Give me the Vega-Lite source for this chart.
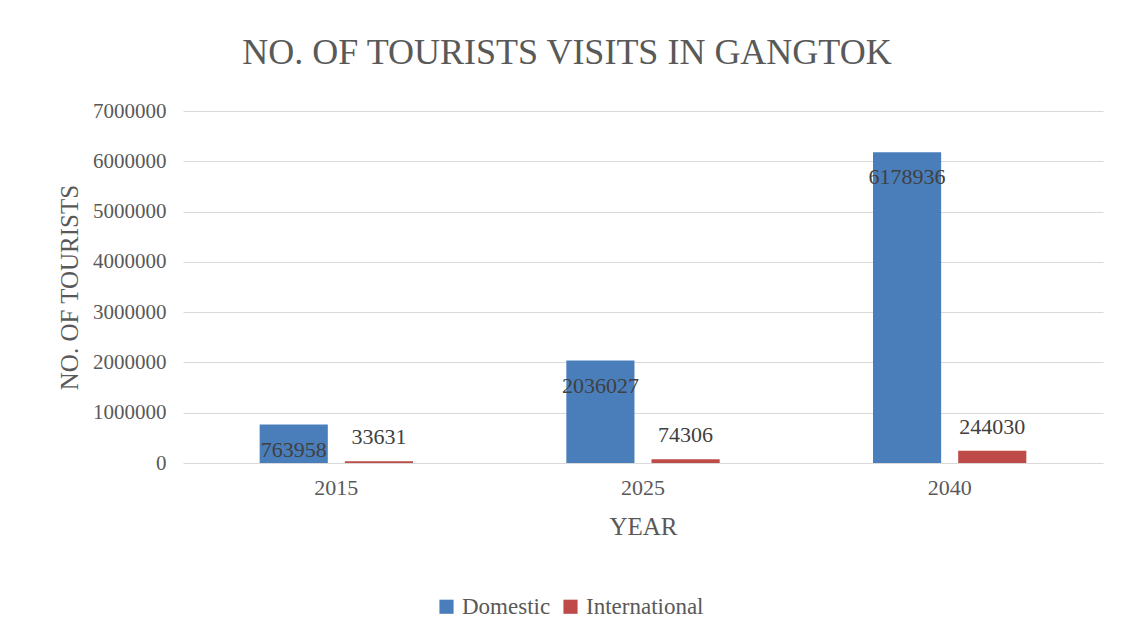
{
  "$schema": "https://vega.github.io/schema/vega-lite/v6.json",
  "autosize": {"type": "none"},
  "width": 920,
  "height": 352,
  "padding": {"left": 183, "top": 111, "right": 22, "bottom": 176},
  "background": "white",
  "config": {
    "font": "Liberation Serif",
    "view": {"stroke": null},
    "title": {"font": "Liberation Serif"},
    "legend": {"labelFont": "Liberation Serif"},
    "text": {"font": "Liberation Serif"}
  },
  "title": {
    "text": "NO. OF TOURISTS VISITS IN GANGTOK",
    "font": "Liberation Serif",
    "fontSize": 36,
    "fontWeight": "normal",
    "color": "#595959",
    "anchor": "middle",
    "frame": "group",
    "dx": -76,
    "offset": 28
  },
  "data": {
    "values": [
      {"year": "2015", "type": "Domestic", "tourists": 763958},
      {"year": "2015", "type": "International", "tourists": 33631},
      {"year": "2025", "type": "Domestic", "tourists": 2036027},
      {"year": "2025", "type": "International", "tourists": 74306},
      {"year": "2040", "type": "Domestic", "tourists": 6178936},
      {"year": "2040", "type": "International", "tourists": 244030}
    ]
  },
  "encoding": {
    "x": {
      "field": "year",
      "type": "nominal",
      "sort": ["2015", "2025", "2040"],
      "scale": {"paddingInner": 0.5, "paddingOuter": 0.25},
      "axis": {
        "title": "YEAR",
        "labelAngle": 0,
        "labelFont": "Liberation Serif",
        "labelFontSize": 22,
        "labelColor": "#595959",
        "labelPadding": 14,
        "tickSize": 0,
        "domain": false,
        "titleFont": "Liberation Serif",
        "titleFontSize": 25,
        "titleFontWeight": "normal",
        "titleColor": "#595959",
        "titlePadding": 16
      }
    },
    "xOffset": {
      "field": "type",
      "type": "nominal",
      "scale": {"paddingInner": 0.2, "paddingOuter": 0}
    },
    "y": {
      "field": "tourists",
      "type": "quantitative",
      "scale": {"domain": [0, 7000000]},
      "axis": {
        "title": "NO. OF TOURISTS",
        "values": [0, 1000000, 2000000, 3000000, 4000000, 5000000, 6000000, 7000000],
        "format": "d",
        "labelFont": "Liberation Serif",
        "labelFontSize": 21,
        "labelColor": "#595959",
        "labelPadding": 17,
        "tickSize": 0,
        "domain": false,
        "gridColor": "#D9D9D9",
        "gridWidth": 1,
        "titleFont": "Liberation Serif",
        "titleFontSize": 25,
        "titleFontWeight": "normal",
        "titleColor": "#595959",
        "titlePadding": 10
      }
    }
  },
  "layer": [
    {
      "mark": {"type": "bar"},
      "encoding": {
        "color": {
          "field": "type",
          "type": "nominal",
          "scale": {"domain": ["Domestic", "International"], "range": ["#4A7EBB", "#BE4B48"]},
          "legend": {
            "title": null,
            "orient": "none",
            "direction": "horizontal",
            "legendX": 252,
            "legendY": 484,
            "symbolType": "square",
            "symbolSize": 200,
            "symbolStrokeWidth": 0,
            "labelFont": "Liberation Serif",
            "labelFontSize": 23,
            "labelColor": "#595959",
            "labelOffset": 4,
            "columnPadding": 8
          }
        }
      }
    },
    {
      "transform": [{"filter": "datum.type === 'Domestic'"}],
      "mark": {"type": "text", "baseline": "top", "dy": 15, "fontSize": 22, "font": "Liberation Serif", "color": "#404040"},
      "encoding": {"text": {"field": "tourists", "type": "quantitative", "format": "d"}}
    },
    {
      "transform": [{"filter": "datum.type === 'International'"}],
      "mark": {"type": "text", "baseline": "bottom", "dy": -12, "fontSize": 22, "font": "Liberation Serif", "color": "#404040"},
      "encoding": {"text": {"field": "tourists", "type": "quantitative", "format": "d"}}
    }
  ]
}
